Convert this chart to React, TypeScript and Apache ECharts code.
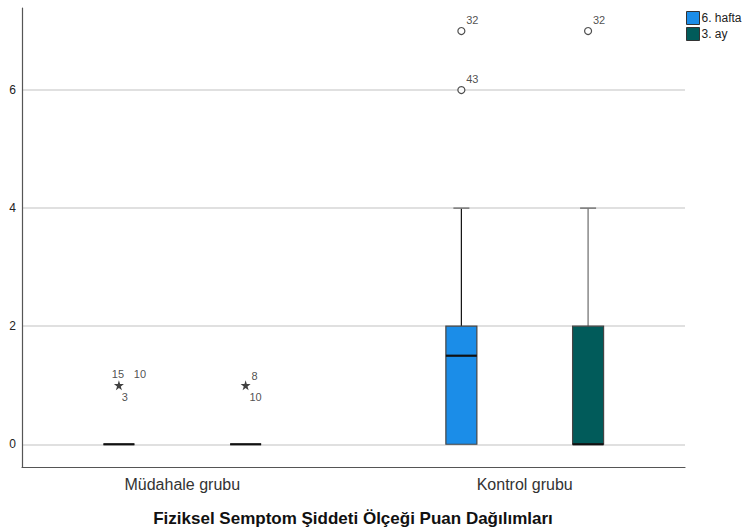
import React, { useEffect, useRef } from "react";
import * as echarts from "echarts";

// Groups on the x axis and the two measurement times
const categories = ["Müdahale grubu", "Kontrol grubu"];
const seriesNames = ["6. hafta", "3. ay"];
const seriesColors = ["#1b8de8", "#015b5a"];
const whiskerColors = ["#111111", "#6b6b6b"];

// Five-number summaries per group: [min, Q1, median, Q3, max]
const hafta6Box = [
  [0, 0, 0, 0, 0],
  [0, 0, 1.5, 2, 4],
];
const ay3Box = [
  [0, 0, 0, 0, 0],
  [0, 0, 0, 2, 4],
];

// Y axis ticks
const yTicks = [0, 2, 4, 6];

// Outliers (circles) and extreme values (stars) with their case numbers
const outlierSeries = [0, 0, 1];
const outlierGroup = [1, 1, 1];
const outlierValue = [7, 6, 7];
const outlierCases = [["32"], ["43"], ["32"]];

const extremeSeries = [0, 1];
const extremeGroup = [0, 0];
const extremeValue = [1, 1];
const extremeCases = [["15", "10", "3"], ["8", "10"]];

// Layout of the case-number labels around a marker (pixel offsets)
const outlierLabelOffsets = [[11, -11]];
const extremeLabelOffsets: Record<number, number[][]> = {
  2: [[9, -9], [10, 11.5]],
  3: [[-1, -11], [21, -11], [6, 11.5]],
};

// Group positions on the value-type x axis and the cluster spread
const groupPos = [1, 2];
const clusterOffset = [-0.185, 0.185];
const BOX_W = 31;
const CAP_W = 16;

const STAR =
  "path://M50,0 L61,35 L98,35 L68,57 L79,91 L50,70 L21,91 L32,57 L2,35 L39,35 Z";

const FONT = "'Liberation Sans', Arial, sans-serif";
const LABEL_COLOR = "#222222";

function xOf(series: number, group: number) {
  return groupPos[group] + clusterOffset[series];
}

export default function App() {
  const ref = useRef<HTMLDivElement>(null);

  useEffect(() => {
    if (!ref.current) return;
    const chart = echarts.init(ref.current, null, { renderer: "svg" });

    const boxSets = [hafta6Box, ay3Box];

    const boxSeries = boxSets.map((set, si) => ({
      type: "custom",
      name: seriesNames[si],
      itemStyle: { color: seriesColors[si], borderColor: "#333", borderWidth: 1 },
      encode: { x: 0, y: [1, 2, 3, 4, 5] },
      data: set.map((b, gi) => [xOf(si, gi), ...b]),
      renderItem: (params: any, api: any) => {
        const x = api.value(0);
        const lo = api.value(1);
        const q1 = api.value(2);
        const med = api.value(3);
        const q3 = api.value(4);
        const hi = api.value(5);
        const cx = api.coord([x, q1])[0];
        const yLo = api.coord([x, lo])[1];
        const yQ1 = api.coord([x, q1])[1];
        const yMed = api.coord([x, med])[1];
        const yQ3 = api.coord([x, q3])[1];
        const yHi = api.coord([x, hi])[1];
        const wStyle = { stroke: whiskerColors[si], lineWidth: 1.2 };
        const children: any[] = [];
        if (hi > q3) {
          children.push({ type: "line", shape: { x1: cx, y1: yQ3, x2: cx, y2: yHi }, style: wStyle });
          children.push({
            type: "line",
            shape: { x1: cx - CAP_W / 2, y1: yHi, x2: cx + CAP_W / 2, y2: yHi },
            style: { stroke: "#777", lineWidth: 1.5 },
          });
        }
        if (lo < q1) {
          children.push({ type: "line", shape: { x1: cx, y1: yQ1, x2: cx, y2: yLo }, style: wStyle });
          children.push({
            type: "line",
            shape: { x1: cx - CAP_W / 2, y1: yLo, x2: cx + CAP_W / 2, y2: yLo },
            style: { stroke: "#777", lineWidth: 1.5 },
          });
        }
        children.push({
          type: "rect",
          shape: { x: cx - BOX_W / 2, y: yQ3, width: BOX_W, height: yQ1 - yQ3 },
          style: { fill: seriesColors[si], stroke: "#444", lineWidth: 1.2 },
        });
        children.push({
          type: "line",
          shape: { x1: cx - BOX_W / 2, y1: yMed, x2: cx + BOX_W / 2, y2: yMed },
          style: { stroke: "#111", lineWidth: 2.2 },
        });
        return { type: "group", children };
      },
      z: 2,
    }));

    const outlierPoints = outlierValue.map((v, i) => [xOf(outlierSeries[i], outlierGroup[i]), v]);
    const extremePoints = extremeValue.map((v, i) => [xOf(extremeSeries[i], extremeGroup[i]), v]);

    // Case-number labels, centred on the marker and shifted by a pixel offset
    const caseLabel = (text: string, offset: number[]) => ({
      show: true,
      position: [0, 0],
      align: "center",
      verticalAlign: "middle",
      formatter: text,
      offset,
      fontFamily: FONT,
      fontSize: 11,
      color: LABEL_COLOR,
    });

    const labelData: any[] = [];
    outlierPoints.forEach((p, i) => {
      outlierCases[i].forEach((c, k) => {
        labelData.push({ value: p, label: caseLabel(c, outlierLabelOffsets[k]) });
      });
    });
    extremePoints.forEach((p, i) => {
      const offs = extremeLabelOffsets[extremeCases[i].length];
      extremeCases[i].forEach((c, k) => {
        labelData.push({ value: p, label: caseLabel(c, offs[k]) });
      });
    });

    chart.setOption({
      animation: false,
      backgroundColor: "#ffffff",
      textStyle: { fontFamily: FONT },
      grid: { left: 22, right: 64, top: 8, bottom: 65, containLabel: false },
      legend: {
        orient: "vertical",
        left: 686,
        top: 11,
        padding: 0,
        itemWidth: 13,
        itemHeight: 13,
        itemGap: 2,
        icon: "rect",
        data: seriesNames,
        itemStyle: { borderColor: "#333", borderWidth: 1 },
        textStyle: { fontFamily: FONT, fontSize: 12, color: "#222", padding: [0, 0, 0, -3] },
        selectedMode: false,
      },
      xAxis: {
        type: "value",
        min: 0.532,
        max: 2.468,
        axisLine: { show: true, onZero: false, lineStyle: { color: "#555", width: 1.2 } },
        axisTick: { show: false, customValues: groupPos },
        splitLine: { show: false },
        axisLabel: {
          customValues: groupPos,
          formatter: (v: number) => categories[groupPos.indexOf(Math.round(v))] ?? "",
          fontFamily: FONT,
          fontSize: 16,
          color: "#333",
          margin: 9,
        },
      },
      yAxis: {
        type: "value",
        min: -0.385,
        max: 7.39,
        axisLine: { show: true, lineStyle: { color: "#555", width: 1.2 } },
        axisTick: { show: false, customValues: yTicks },
        splitLine: { show: true, lineStyle: { color: "#d6d6d6", width: 1.6 } },
        axisLabel: {
          customValues: yTicks,
          fontFamily: FONT,
          fontSize: 12,
          color: "#222",
          margin: 6,
        },
      },
      series: [
        ...boxSeries,
        {
          type: "scatter",
          name: "outliers",
          symbol: "circle",
          symbolSize: 7,
          itemStyle: { color: "#ffffff", borderColor: "#222", borderWidth: 1.2 },
          data: outlierPoints,
          silent: true,
          z: 3,
        },
        {
          type: "scatter",
          name: "extremes",
          symbol: STAR,
          symbolSize: 10,
          itemStyle: { color: "#111" },
          data: extremePoints,
          silent: true,
          z: 3,
        },
        {
          type: "scatter",
          name: "caseLabels",
          symbol: "circle",
          symbolSize: 0,
          silent: true,
          itemStyle: { color: LABEL_COLOR },
          label: {
            show: true,
            fontFamily: FONT,
            fontSize: 11,
            color: LABEL_COLOR,
          },
          data: labelData,
          z: 4,
        },
      ],
      graphic: [
        {
          type: "text",
          x: 353,
          y: 518,
          style: {
            text: "Fiziksel Semptom Şiddeti Ölçeği Puan Dağılımları",
            fontFamily: FONT,
            fontSize: 17,
            fontWeight: "bold",
            fill: "#111",
            textAlign: "center",
            textVerticalAlign: "middle",
          },
        },
      ],
    });

    return () => chart.dispose();
  }, []);

  return (
    <div
      ref={ref}
      style={{ position: "fixed", left: 0, top: 0, width: 749, height: 532, background: "#fff" }}
    />
  );
}
